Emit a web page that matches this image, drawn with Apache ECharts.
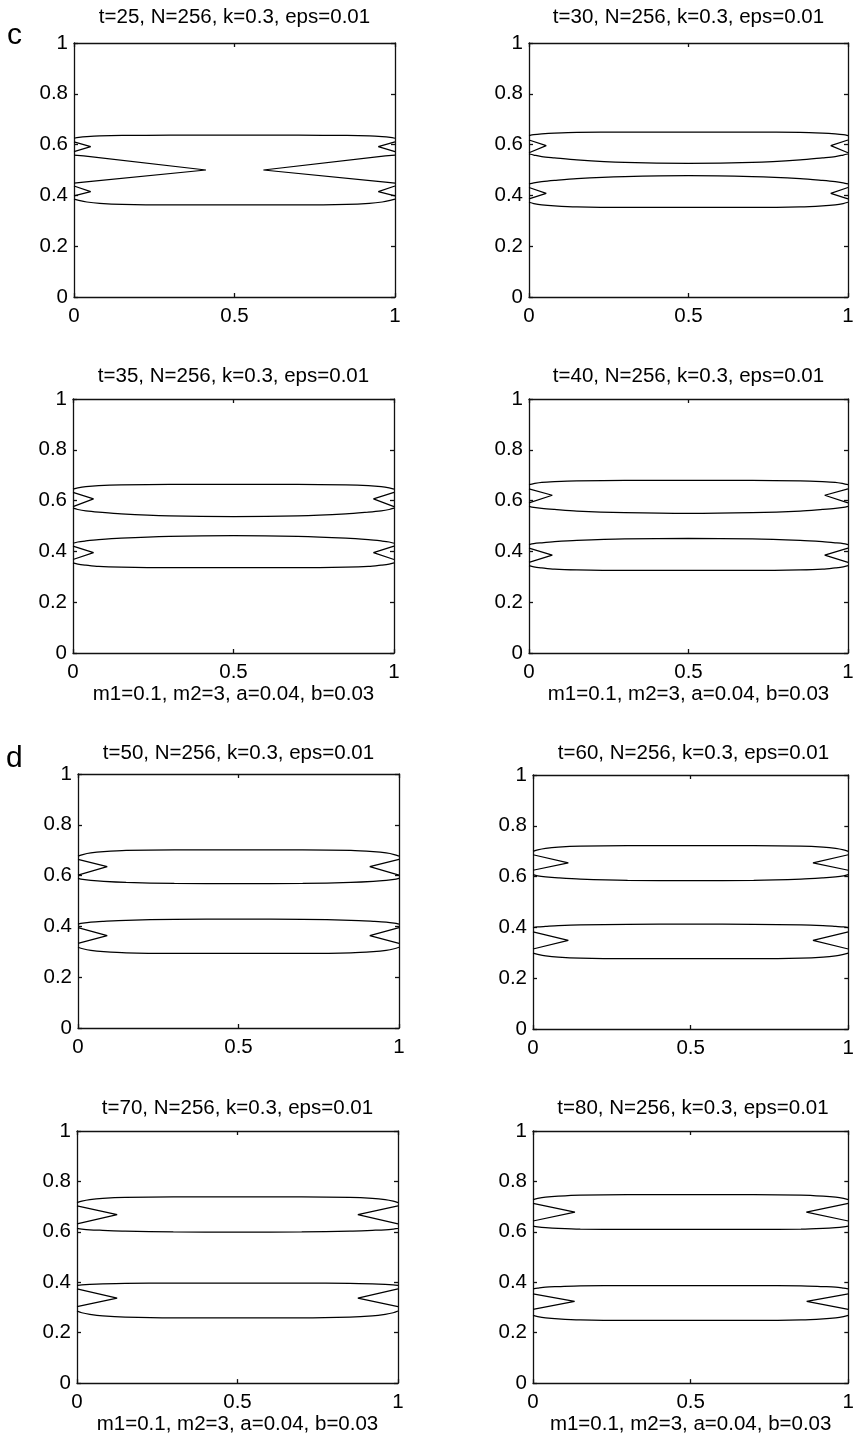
<!DOCTYPE html>
<html>
<head>
<meta charset="utf-8">
<script src="https://cdn.jsdelivr.net/npm/echarts@6/dist/echarts.min.js"></script>
<style>html,body{margin:0;padding:0;background:#fff}#chart{width:857px;height:1436px}</style>
</head>
<body>
<div id="chart"></div>
<script>
// ---------- data ----------
const xTickStep = 0.5;
const yTickStep = 0.2;
const titles = [
  't=25, N=256, k=0.3, eps=0.01', 't=30, N=256, k=0.3, eps=0.01',
  't=35, N=256, k=0.3, eps=0.01', 't=40, N=256, k=0.3, eps=0.01',
  't=50, N=256, k=0.3, eps=0.01', 't=60, N=256, k=0.3, eps=0.01',
  't=70, N=256, k=0.3, eps=0.01', 't=80, N=256, k=0.3, eps=0.01'
];
const paramText = 'm1=0.1, m2=3, a=0.04, b=0.03';
const panelLetters = ['c', 'd'];

// x positions where contour edges are sampled
const edgeX = [0, 0.015, 0.04, 0.08, 0.15, 0.3, 0.5, 0.7, 0.85, 0.92, 0.96, 0.985, 1];

// contour edges (y at edgeX): upper band top, upper band bottom, lower band top, lower band bottom
const edges25 = [
  [0.625, 0.628, 0.631, 0.634, 0.636, 0.637, 0.637, 0.637, 0.636, 0.634, 0.631, 0.628, 0.625],
  [0.385, 0.380, 0.374, 0.369, 0.365, 0.363, 0.363, 0.363, 0.365, 0.369, 0.374, 0.380, 0.385]
];
const crossLeft25 = [[0, 0.559], [0.03, 0.556], [0.411, 0.5], [0.03, 0.452], [0, 0.448]];
const crossRight25 = [[1, 0.559], [0.97, 0.556], [0.59, 0.5], [0.97, 0.452], [1, 0.448]];
const edges30 = [
  [0.635, 0.639, 0.642, 0.645, 0.648, 0.649, 0.649, 0.649, 0.648, 0.645, 0.642, 0.639, 0.635],
  [0.563, 0.559, 0.553, 0.548, 0.540, 0.530, 0.526, 0.530, 0.540, 0.548, 0.553, 0.559, 0.563],
  [0.445, 0.449, 0.454, 0.459, 0.466, 0.474, 0.478, 0.474, 0.466, 0.459, 0.454, 0.449, 0.445],
  [0.373, 0.368, 0.363, 0.359, 0.355, 0.353, 0.353, 0.353, 0.355, 0.359, 0.363, 0.368, 0.373]
];
const edges35 = [
  [0.645, 0.650, 0.655, 0.659, 0.662, 0.664, 0.664, 0.664, 0.662, 0.659, 0.655, 0.650, 0.645],
  [0.570, 0.565, 0.560, 0.555, 0.548, 0.540, 0.537, 0.540, 0.548, 0.555, 0.560, 0.565, 0.570],
  [0.432, 0.437, 0.441, 0.446, 0.452, 0.459, 0.462, 0.459, 0.452, 0.446, 0.441, 0.437, 0.432],
  [0.355, 0.350, 0.346, 0.341, 0.338, 0.336, 0.336, 0.336, 0.338, 0.341, 0.346, 0.350, 0.355]
];
const edges40 = [
  [0.663, 0.667, 0.672, 0.675, 0.678, 0.680, 0.680, 0.680, 0.678, 0.675, 0.672, 0.667, 0.663],
  [0.577, 0.573, 0.569, 0.565, 0.559, 0.553, 0.550, 0.553, 0.559, 0.565, 0.569, 0.573, 0.577],
  [0.427, 0.431, 0.434, 0.438, 0.443, 0.449, 0.451, 0.449, 0.443, 0.438, 0.434, 0.431, 0.427],
  [0.344, 0.339, 0.335, 0.330, 0.327, 0.325, 0.325, 0.325, 0.327, 0.330, 0.335, 0.339, 0.344]
];
const edges50 = [
  [0.677, 0.683, 0.689, 0.694, 0.699, 0.701, 0.701, 0.701, 0.699, 0.694, 0.689, 0.683, 0.677],
  [0.589, 0.585, 0.581, 0.577, 0.573, 0.569, 0.568, 0.569, 0.573, 0.577, 0.581, 0.585, 0.589],
  [0.409, 0.413, 0.417, 0.420, 0.424, 0.428, 0.429, 0.428, 0.424, 0.420, 0.417, 0.413, 0.409],
  [0.318, 0.312, 0.306, 0.301, 0.296, 0.294, 0.294, 0.294, 0.296, 0.301, 0.306, 0.312, 0.318]
];
const edges60 = [
  [0.699, 0.705, 0.711, 0.716, 0.720, 0.722, 0.722, 0.722, 0.720, 0.716, 0.711, 0.705, 0.699],
  [0.608, 0.603, 0.599, 0.595, 0.590, 0.585, 0.584, 0.585, 0.590, 0.595, 0.599, 0.603, 0.608],
  [0.399, 0.402, 0.404, 0.407, 0.410, 0.412, 0.413, 0.412, 0.410, 0.407, 0.404, 0.402, 0.399],
  [0.299, 0.294, 0.288, 0.283, 0.279, 0.277, 0.277, 0.277, 0.279, 0.283, 0.288, 0.294, 0.299]
];
const edges70 = [
  [0.716, 0.722, 0.728, 0.733, 0.737, 0.739, 0.739, 0.739, 0.737, 0.733, 0.728, 0.722, 0.716],
  [0.614, 0.611, 0.608, 0.606, 0.603, 0.600, 0.599, 0.600, 0.603, 0.606, 0.608, 0.611, 0.614],
  [0.388, 0.390, 0.392, 0.394, 0.396, 0.397, 0.397, 0.397, 0.396, 0.394, 0.392, 0.390, 0.388],
  [0.286, 0.279, 0.273, 0.267, 0.262, 0.259, 0.259, 0.259, 0.262, 0.267, 0.273, 0.279, 0.286]
];
const edges80 = [
  [0.728, 0.733, 0.738, 0.742, 0.746, 0.748, 0.748, 0.748, 0.746, 0.742, 0.738, 0.733, 0.728],
  [0.623, 0.620, 0.617, 0.614, 0.611, 0.610, 0.610, 0.610, 0.611, 0.614, 0.617, 0.620, 0.623],
  [0.374, 0.377, 0.381, 0.383, 0.386, 0.387, 0.387, 0.387, 0.386, 0.383, 0.381, 0.377, 0.374],
  [0.269, 0.264, 0.259, 0.255, 0.251, 0.249, 0.249, 0.249, 0.251, 0.255, 0.259, 0.264, 0.269]
];

// notches at both walls: [y where upper arm leaves wall, notch depth in x, tip y, y where lower arm leaves wall]
const notches25 = [[0.611, 0.052, 0.592, 0.572], [0.437, 0.052, 0.415, 0.398]];
const notches30 = [[0.618, 0.054, 0.596, 0.568], [0.431, 0.054, 0.408, 0.386]];
const notches35 = [[0.632, 0.064, 0.607, 0.576], [0.421, 0.064, 0.395, 0.368]];
const notches40 = [[0.646, 0.073, 0.621, 0.591], [0.413, 0.073, 0.385, 0.357]];
const notches50 = [[0.664, 0.091, 0.635, 0.602], [0.395, 0.091, 0.364, 0.333]];
const notches60 = [[0.686, 0.112, 0.654, 0.625], [0.382, 0.112, 0.349, 0.315]];
const notches70 = [[0.703, 0.125, 0.668, 0.632], [0.374, 0.125, 0.337, 0.303]];
const notches80 = [[0.713, 0.133, 0.678, 0.643], [0.354, 0.132, 0.324, 0.292]];

// ---------- layout ----------
const FONT = "'Liberation Sans', Arial, Helvetica, sans-serif";
const layout = [
  { left: 74, top: 43, width: 321, height: 254, titleY: 17, nameGap: 0 },
  { left: 529, top: 43, width: 319, height: 254, titleY: 17, nameGap: 0 },
  { left: 73, top: 399, width: 321, height: 254, titleY: 376, nameGap: 31 },
  { left: 529, top: 399, width: 319, height: 254, titleY: 376, nameGap: 31 },
  { left: 78, top: 774, width: 321, height: 254, titleY: 753, nameGap: 0 },
  { left: 533, top: 775, width: 321, height: 254, titleY: 753, nameGap: 0 },
  { left: 77, top: 1131, width: 321, height: 253, titleY: 1108, nameGap: 28 },
  { left: 533, top: 1131, width: 320, height: 254, titleY: 1108, nameGap: 26 }
];
const panelEdges = [edges25, edges30, edges35, edges40, edges50, edges60, edges70, edges80];
const panelNotches = [notches25, notches30, notches35, notches40, notches50, notches60, notches70, notches80];
const panelExtra = [[crossLeft25, crossRight25], [], [], [], [], [], [], []];
const hasParam = [false, false, true, true, false, false, true, true];

const lineStyle = { color: '#000', width: 1.25 };
const axisLineStyle = { color: '#111', width: 1.3 };

const grids = [], xAxes = [], yAxes = [], series = [], titleComps = [];

layout.forEach((g, i) => {
  grids.push({ left: g.left, top: g.top, width: g.width, height: g.height, containLabel: false });
  titleComps.push({
    text: titles[i], left: g.left + g.width / 2, top: g.titleY,
    textAlign: 'center', textVerticalAlign: 'middle', padding: 0,
    textStyle: { fontFamily: FONT, fontSize: 20.5, fontWeight: 'normal', color: '#000' }
  });
  const baseAxis = {
    type: 'value', min: 0, max: 1, gridIndex: i,
    axisLine: { show: true, onZero: false, lineStyle: axisLineStyle },
    axisTick: { show: true, inside: true, length: 4, lineStyle: axisLineStyle },
    splitLine: { show: false }
  };
  xAxes.push(Object.assign({}, baseAxis, {
    position: 'bottom', interval: xTickStep,
    axisLabel: { color: '#000', fontFamily: FONT, fontSize: 20.5, margin: 9 },
    name: hasParam[i] ? paramText : '', nameLocation: 'middle', nameGap: g.nameGap,
    nameTextStyle: { color: '#000', fontFamily: FONT, fontSize: 20.5, lineHeight: 20.5 }
  }));
  xAxes.push(Object.assign({}, baseAxis, {
    position: 'top', interval: xTickStep, axisLabel: { show: false }
  }));
  yAxes.push(Object.assign({}, baseAxis, {
    position: 'left', interval: yTickStep,
    axisLabel: { color: '#000', fontFamily: FONT, fontSize: 20.5, margin: 6 }
  }));
  yAxes.push(Object.assign({}, baseAxis, {
    position: 'right', interval: yTickStep, axisLabel: { show: false }
  }));

  const common = {
    type: 'line', xAxisIndex: 2 * i, yAxisIndex: 2 * i, showSymbol: false, symbol: 'none',
    lineStyle: lineStyle, silent: true, animation: false, z: 3
  };
  panelEdges[i].forEach(edge => {
    series.push(Object.assign({}, common, {
      smooth: 0.3, data: edgeX.map((x, k) => [x, edge[k]])
    }));
  });
  panelNotches[i].forEach(n => {
    series.push(Object.assign({}, common, { data: [[0, n[0]], [n[1], n[2]], [0, n[3]]] }));
    series.push(Object.assign({}, common, { data: [[1, n[0]], [1 - n[1], n[2]], [1, n[3]]] }));
  });
  panelExtra[i].forEach(pts => {
    series.push(Object.assign({}, common, { data: pts }));
  });
});

const chart = echarts.init(document.getElementById('chart'), null, { renderer: 'canvas' });
chart.setOption({
  animation: false,
  backgroundColor: '#fff',
  title: titleComps,
  grid: grids,
  xAxis: xAxes,
  yAxis: yAxes,
  series: series,
  graphic: [
    { type: 'text', left: 7, top: 21, style: { text: panelLetters[0], font: '30px ' + FONT, fill: '#000' } },
    { type: 'text', left: 6, top: 744, style: { text: panelLetters[1], font: '30px ' + FONT, fill: '#000' } }
  ]
});
</script>
</body>
</html>
